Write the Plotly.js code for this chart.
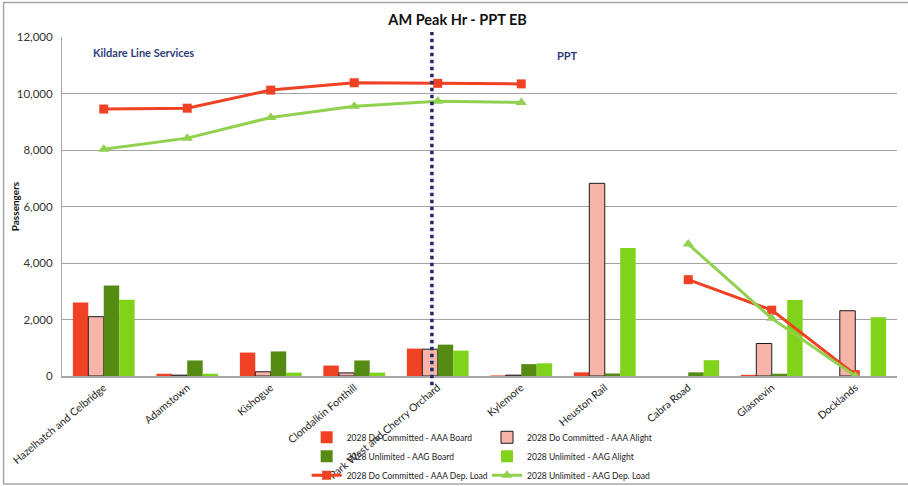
<!DOCTYPE html>
<html>
<head>
<meta charset="utf-8">
<script src="https://cdn.plot.ly/plotly-3.0.1.min.js"></script>
<style>html,body{margin:0;padding:0;background:#fff;}#chart{width:908px;height:486px;}</style>
</head>
<body>
<div id="chart"></div>
<script>
const categories = ['Hazelhatch and Celbridge','Adamstown','Kishogue','Clondalkin Fonthill','Park West and Cherry Orchard','Kylemore','Heuston Rail','Cabra Road','Glasnevin','Docklands'];
const aaaBoard  = [2600, 80, 830, 370, 970, 20, 130, null, 40, 0];
const aaaAlight = [2100, 30, 150, 110, 950, 30, 6820, null, 1150, 2310];
const aagBoard  = [3200, 550, 870, 550, 1110, 420, 90, 130, 80, 0];
const aagAlight = [2700, 80, 120, 120, 900, 450, 4530, 560, 2690, 2080];
const aaaLoad   = [9450, 9480, 10120, 10380, 10360, 10340, null, 3410, 2330, 50];
const aagLoad   = [8030, 8420, 9150, 9550, 9730, 9680, null, 4670, 2040, 0];
const yTicks    = [0, 2000, 4000, 6000, 8000, 10000, 12000];

const FONT = 'Lato, "Liberation Sans", sans-serif';
const RED = '#EF4123', PINK = '#F8B4A9', DKGREEN = '#558B12', LTGREEN = '#80D31A', LINEGREEN = '#92D050';

const traces = [
  {type:'bar', name:'2028 Do Committed - AAA Board', x:categories, y:aaaBoard, marker:{color:RED}, legend:'legend'},
  {type:'bar', name:'2028 Do Committed - AAA Alight', x:categories, y:aaaAlight, marker:{color:PINK, line:{color:'#1a1a1a', width:1}}, legend:'legend2'},
  {type:'bar', name:'2028 Unlimited - AAG Board', x:categories, y:aagBoard, marker:{color:DKGREEN}, legend:'legend'},
  {type:'bar', name:'2028 Unlimited - AAG Alight', x:categories, y:aagAlight, marker:{color:LTGREEN}, legend:'legend2'},
  {type:'scatter', mode:'lines+markers', name:'2028 Do Committed - AAA Dep. Load', x:categories, y:aaaLoad, connectgaps:false,
   line:{color:RED, width:3}, marker:{symbol:'square', size:9, color:RED}, legend:'legend'},
  {type:'scatter', mode:'lines+markers', name:'2028 Unlimited - AAG Dep. Load', x:categories, y:aagLoad, connectgaps:false,
   line:{color:LINEGREEN, width:3}, marker:{symbol:'triangle-up', size:10, color:LINEGREEN}, legend:'legend2'}
];

const legendCommon = {orientation:'v', xanchor:'left', yanchor:'top', y:-0.138, bgcolor:'rgba(0,0,0,0)',
  font:{family:FONT, size:8.5, color:'#222'}, traceorder:'normal', itemwidth:30};

const layout = {
  width:908, height:486,
  margin:{l:62, r:11, t:37, b:110, autoexpand:false},
  paper_bgcolor:'#fff', plot_bgcolor:'#fff',
  font:{family:FONT, color:'#222'},
  title:{text:'<b>AM Peak Hr - PPT EB</b>', x:0.504, xanchor:'center', y:0.959, yanchor:'middle',
         font:{family:FONT, size:14.5, color:'#111'}},
  barmode:'group', bargap:0.26, bargroupgap:0,
  xaxis:{type:'category', tickangle:-40, tickfont:{family:FONT, size:10.5, color:'#222'},
         showline:true, linecolor:'#a6a6a6', linewidth:1.5, ticks:'', showgrid:false, range:[-0.5, 9.5]},
  yaxis:{range:[0, 12000], tickvals:yTicks, tickformat:',', tickfont:{family:FONT, size:11.5, color:'#333'},
         showgrid:true, gridcolor:'#a3a3a3', gridwidth:1, zeroline:false, showline:true, linecolor:'#a6a6a6', linewidth:1,
         ticks:'', ticklabelstandoff:6,
         title:{text:'<b>Passengers</b>', font:{family:FONT, size:10, color:'#111'}}},
  legend:Object.assign({x:0.293}, legendCommon),
  legend2:Object.assign({x:0.509}, legendCommon),
  annotations:[
    {xref:'paper', yref:'paper', x:0.0976, y:0.953, text:'<b>Kildare Line Services</b>', showarrow:false,
     font:{family:FONT, size:11, color:'#2E3D7A'}, xanchor:'center', yanchor:'middle'},
    {xref:'paper', yref:'paper', x:0.605, y:0.944, text:'<b>PPT</b>', showarrow:false,
     font:{family:FONT, size:11, color:'#2E3D7A'}, xanchor:'center', yanchor:'middle'}
  ],
  shapes:[
    {type:'line', xref:'paper', yref:'paper', x0:0.443, x1:0.443, y0:-0.027, y1:1.015,
     line:{color:'#1F2B6B', width:3.5, dash:'dot'}},
    {type:'rect', xref:'paper', yref:'paper', x0:-0.070, x1:1.05, y0:-0.3186, y1:1.1018,
     line:{color:'#a6a6a6', width:1.5}, fillcolor:'rgba(0,0,0,0)', layer:'below'}
  ]
};

Plotly.newPlot('chart', traces, layout, {displayModeBar:false, staticPlot:true});
</script>
</body>
</html>
